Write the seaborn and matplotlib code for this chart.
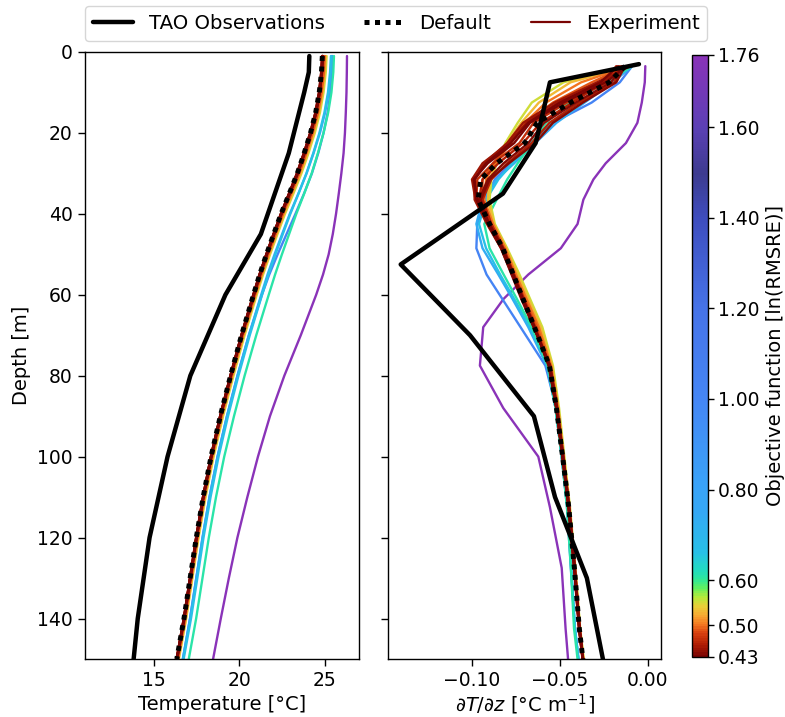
import numpy as np
import matplotlib
matplotlib.use("Agg")
import matplotlib.pyplot as plt
import seaborn as sns
from matplotlib.colors import LinearSegmentedColormap, Normalize
from matplotlib.cm import ScalarMappable
from matplotlib.lines import Line2D

# ---------------- data ----------------
# TAO mooring observations
TAO_DEPTH = [1, 5, 10, 20, 25, 45, 60, 80, 100, 120, 140, 160]
TAO_TEMP = [24.10, 24.07, 23.80, 23.20, 22.90, 21.27, 19.20, 17.15, 15.82, 14.77, 14.08, 13.60]
TAO_GRAD_DEPTH = [3, 7.5, 15, 22.5, 35, 52.5, 70, 90, 110, 130, 150, 170]
TAO_GRAD = [-0.0051, -0.0557, -0.0597, -0.0638, -0.0824, -0.1405, -0.1011, -0.0648,
            -0.0528, -0.0347, -0.0256, -0.0200]

# model grids
MODEL_DEPTH = [1, 5, 10, 15, 20, 25, 30, 35, 40, 45, 50, 55, 60, 70, 80, 90, 100,
               110, 120, 130, 140, 150]
GRAD_DEPTH = [3.5, 7.5, 12.5, 17.5, 22.5, 27.5, 31.5, 36.5, 42.5, 48.5, 55, 61, 68,
              77.5, 88, 100, 112.5, 127.5, 142.5, 157.5]

# default parameter run
DEFAULT_TEMP = [24.86, 24.81, 24.68, 24.47, 24.17, 23.80, 23.40, 22.93, 22.45, 22.02,
                21.60, 21.20, 20.84, 20.14, 19.50, 18.90, 18.36, 17.90, 17.50, 17.14,
                16.78, 16.36]
DEFAULT_GRAD = [-0.013, -0.022, -0.044, -0.063, -0.070, -0.086, -0.095, -0.0965, -0.090,
                -0.0825, -0.0765, -0.071, -0.0645, -0.056, -0.052, -0.0485, -0.045,
                -0.0418, -0.039, -0.035]

# calibration experiments: objective function value, temperature, dT/dz
EXP_COST = [1.76, 1.02, 0.74, 0.66, 0.61, 0.55, 0.53, 0.50, 0.49, 0.47, 0.46, 0.46,
            0.45, 0.45, 0.44, 0.44, 0.435, 0.43]
EXP_TEMP = [
    [26.30, 26.29, 26.27, 26.23, 26.18, 26.10, 25.97, 25.82, 25.66, 25.47, 25.23, 24.90,
     24.50, 23.60, 22.64, 21.80, 21.10, 20.48, 19.90, 19.40, 18.93, 18.48],
    [25.45, 25.42, 25.33, 25.17, 24.93, 24.62, 24.25, 23.79, 23.29, 22.77, 22.25, 21.76,
     21.33, 20.57, 19.90, 19.29, 18.74, 18.27, 17.87, 17.50, 17.13, 16.72],
    [25.41, 25.36, 25.23, 25.02, 24.72, 24.35, 23.94, 23.46, 22.96, 22.51, 22.07, 21.66,
     21.29, 20.57, 19.91, 19.29, 18.74, 18.27, 17.86, 17.50, 17.14, 16.71],
    [25.36, 25.31, 25.19, 24.98, 24.69, 24.33, 23.93, 23.47, 22.99, 22.55, 22.12, 21.71,
     21.34, 20.62, 19.96, 19.35, 18.80, 18.33, 17.92, 17.56, 17.19, 16.76],
    [25.54, 25.50, 25.39, 25.20, 24.93, 24.60, 24.24, 23.80, 23.34, 22.92, 22.50, 22.10,
     21.73, 21.00, 20.32, 19.70, 19.13, 18.65, 18.23, 17.86, 17.49, 17.06],
    [25.11, 25.06, 24.93, 24.72, 24.42, 24.05, 23.64, 23.17, 22.68, 22.24, 21.81, 21.40,
     21.03, 20.32, 19.67, 19.06, 18.51, 18.04, 17.63, 17.27, 16.91, 16.48],
    [25.06, 25.01, 24.88, 24.67, 24.37, 24.00, 23.59, 23.12, 22.64, 22.20, 21.77, 21.36,
     20.99, 20.28, 19.63, 19.03, 18.48, 18.01, 17.61, 17.25, 16.89, 16.46],
    [25.01, 24.96, 24.83, 24.62, 24.31, 23.94, 23.53, 23.06, 22.58, 22.15, 21.72, 21.32,
     20.95, 20.24, 19.59, 18.99, 18.44, 17.98, 17.58, 17.22, 16.86, 16.44],
    [24.97, 24.92, 24.79, 24.58, 24.27, 23.90, 23.49, 23.02, 22.54, 22.11, 21.68, 21.28,
     20.92, 20.21, 19.56, 18.96, 18.42, 17.96, 17.56, 17.20, 16.84, 16.42],
    [24.90, 24.85, 24.72, 24.51, 24.21, 23.84, 23.44, 22.97, 22.49, 22.06, 21.64, 21.24,
     20.88, 20.17, 19.53, 18.93, 18.39, 17.93, 17.53, 17.17, 16.81, 16.39],
    [24.87, 24.82, 24.69, 24.48, 24.18, 23.81, 23.41, 22.94, 22.46, 22.03, 21.61, 21.21,
     20.85, 20.15, 19.51, 18.91, 18.37, 17.91, 17.51, 17.15, 16.79, 16.37],
    [24.88, 24.83, 24.70, 24.49, 24.19, 23.82, 23.42, 22.95, 22.47, 22.04, 21.62, 21.22,
     20.86, 20.15, 19.51, 18.91, 18.37, 17.91, 17.51, 17.15, 16.79, 16.37],
    [24.84, 24.79, 24.66, 24.45, 24.15, 23.78, 23.38, 22.92, 22.44, 22.01, 21.59, 21.19,
     20.83, 20.13, 19.49, 18.89, 18.35, 17.89, 17.49, 17.13, 16.77, 16.35],
    [24.86, 24.81, 24.68, 24.46, 24.15, 23.78, 23.37, 22.91, 22.44, 22.01, 21.59, 21.19,
     20.83, 20.13, 19.49, 18.89, 18.35, 17.89, 17.49, 17.13, 16.77, 16.35],
    [24.85, 24.80, 24.67, 24.46, 24.16, 23.79, 23.39, 22.92, 22.44, 22.01, 21.59, 21.19,
     20.83, 20.13, 19.49, 18.89, 18.35, 17.89, 17.49, 17.13, 16.77, 16.35],
    [24.89, 24.84, 24.71, 24.50, 24.20, 23.83, 23.43, 22.96, 22.48, 22.05, 21.63, 21.23,
     20.87, 20.16, 19.52, 18.92, 18.38, 17.92, 17.52, 17.16, 16.80, 16.38],
    [24.87, 24.82, 24.69, 24.48, 24.17, 23.80, 23.39, 22.92, 22.45, 22.02, 21.60, 21.20,
     20.84, 20.14, 19.50, 18.90, 18.36, 17.90, 17.50, 17.14, 16.78, 16.36],
    [24.88, 24.83, 24.70, 24.49, 24.18, 23.81, 23.40, 22.93, 22.46, 22.03, 21.61, 21.21,
     20.85, 20.15, 19.51, 18.91, 18.37, 17.91, 17.51, 17.15, 16.79, 16.37],
]
EXP_GRAD = [
    [-0.0015, -0.0018, -0.0035, -0.006, -0.0125, -0.024, -0.031, -0.0367, -0.040, -0.0495,
     -0.068, -0.082, -0.0936, -0.0955, -0.0822, -0.0623, -0.0557, -0.049, -0.0468, -0.044],
    [-0.009, -0.016, -0.032, -0.054, -0.0665, -0.078, -0.087, -0.0925, -0.097, -0.0975,
     -0.0917, -0.0828, -0.0724, -0.0583, -0.052, -0.049, -0.046, -0.0438, -0.0415, -0.0375],
    [-0.009, -0.020, -0.036, -0.052, -0.064, -0.076, -0.086, -0.094, -0.0975, -0.094,
     -0.085, -0.077, -0.068, -0.0575, -0.0525, -0.049, -0.0458, -0.0437, -0.0415, -0.0375],
    [-0.010, -0.022, -0.040, -0.055, -0.066, -0.077, -0.085, -0.092, -0.096, -0.092,
     -0.084, -0.076, -0.067, -0.057, -0.0525, -0.049, -0.0458, -0.0435, -0.0415, -0.0375],
    [-0.009, -0.024, -0.045, -0.058, -0.066, -0.074, -0.080, -0.086, -0.093, -0.090,
     -0.082, -0.0745, -0.066, -0.057, -0.0525, -0.049, -0.046, -0.0438, -0.042, -0.038],
    [-0.012, -0.048, -0.066, -0.074, -0.081, -0.086, -0.089, -0.090, -0.087, -0.080,
     -0.073, -0.067, -0.060, -0.054, -0.0505, -0.0475, -0.0443, -0.0412, -0.0385, -0.0345],
    [-0.011, -0.044, -0.062, -0.072, -0.080, -0.086, -0.090, -0.091, -0.0875, -0.0805,
     -0.074, -0.068, -0.061, -0.0545, -0.051, -0.0478, -0.0445, -0.0413, -0.0386, -0.0346],
    [-0.011, -0.038, -0.058, -0.070, -0.078, -0.087, -0.092, -0.093, -0.088, -0.081,
     -0.075, -0.069, -0.062, -0.055, -0.051, -0.048, -0.0447, -0.0415, -0.0388, -0.0348],
    [-0.012, -0.032, -0.054, -0.069, -0.078, -0.088, -0.094, -0.094, -0.089, -0.082,
     -0.076, -0.070, -0.063, -0.0555, -0.0515, -0.048, -0.0447, -0.0415, -0.0388, -0.0348],
    [-0.016, -0.023, -0.046, -0.065, -0.073, -0.088, -0.097, -0.0975, -0.0905, -0.083,
     -0.0768, -0.0712, -0.0648, -0.0562, -0.052, -0.0485, -0.045, -0.0418, -0.039, -0.0352],
    [-0.015, -0.019, -0.039, -0.056, -0.066, -0.080, -0.089, -0.094, -0.089, -0.082,
     -0.076, -0.0705, -0.064, -0.0558, -0.0518, -0.0483, -0.0448, -0.0416, -0.0388, -0.035],
    [-0.018, -0.025, -0.043, -0.061, -0.071, -0.085, -0.094, -0.096, -0.0895, -0.0825,
     -0.0765, -0.071, -0.0645, -0.056, -0.052, -0.0485, -0.045, -0.0418, -0.039, -0.035],
    [-0.011, -0.026, -0.051, -0.069, -0.079, -0.094, -0.100, -0.098, -0.091, -0.083,
     -0.077, -0.0715, -0.0645, -0.056, -0.052, -0.0487, -0.0452, -0.042, -0.0392, -0.0352],
    [-0.010, -0.029, -0.053, -0.071, -0.080, -0.093, -0.0985, -0.0985, -0.0915, -0.0835,
     -0.0772, -0.0713, -0.0647, -0.0561, -0.0521, -0.0486, -0.0451, -0.0419, -0.0391, -0.0351],
    [-0.014, -0.021, -0.041, -0.059, -0.068, -0.082, -0.091, -0.096, -0.091, -0.0835,
     -0.0775, -0.072, -0.065, -0.0555, -0.0515, -0.048, -0.0448, -0.0415, -0.0388, -0.0348],
    [-0.013, -0.018, -0.037, -0.054, -0.064, -0.079, -0.090, -0.095, -0.0905, -0.083,
     -0.077, -0.0715, -0.0648, -0.0557, -0.0517, -0.0482, -0.0447, -0.0416, -0.0389, -0.0349],
    [-0.017, -0.027, -0.050, -0.068, -0.078, -0.092, -0.0985, -0.0975, -0.0905, -0.0828,
     -0.0768, -0.0712, -0.0646, -0.0562, -0.0521, -0.0486, -0.0451, -0.0419, -0.0391, -0.0351],
    [-0.012, -0.024, -0.048, -0.067, -0.076, -0.091, -0.099, -0.097, -0.090, -0.0825,
     -0.0765, -0.071, -0.0645, -0.0565, -0.052, -0.0485, -0.045, -0.0418, -0.039, -0.035],
]

CBAR_TICKS = [0.43, 0.50, 0.60, 0.80, 1.00, 1.20, 1.40, 1.60, 1.76]

# colour scale for the objective function
CMAP_VALUES = [0.43, 0.455, 0.48, 0.50, 0.52, 0.54, 0.56, 0.58, 0.60, 0.62, 0.66,
               0.75, 0.80, 1.00, 1.20, 1.40, 1.50, 1.60, 1.76]
CMAP_COLORS = ["#7a0403", "#b01e04", "#d8400f", "#f57a22", "#f8a832", "#e8d038",
               "#b5eb3a", "#60f060", "#2ee89a", "#22dcc0", "#28c0e8", "#35a8f5",
               "#39a4f8", "#4586f5", "#4673e8", "#3e4dbe", "#3d3b8f", "#5b40b5",
               "#8a33b8"]

# ---------------- figure ----------------
sns.set_theme(style="ticks")
plt.rcParams["font.family"] = ["DejaVu Sans"]
FS = 13.5
plt.rcParams.update({"font.size": FS, "axes.labelsize": 14, "xtick.labelsize": FS,
                     "ytick.labelsize": FS, "axes.edgecolor": "black",
                     "text.color": "black", "axes.labelcolor": "black",
                     "xtick.color": "black", "ytick.color": "black",
                     "axes.linewidth": 1.0})

vmin, vmax = CMAP_VALUES[0], CMAP_VALUES[-1]
stops = [(v - vmin) / (vmax - vmin) for v in CMAP_VALUES]
cmap = LinearSegmentedColormap.from_list("objective", list(zip(stops, CMAP_COLORS)))
norm = Normalize(vmin=vmin, vmax=vmax)

fig = plt.figure(figsize=(7.85, 7.17), dpi=100)
ax1 = fig.add_axes([0.1083, 0.0809, 0.3490, 0.8466])
ax2 = fig.add_axes([0.4943, 0.0809, 0.3477, 0.8466], sharey=ax1)
cax = fig.add_axes([0.8815, 0.0837, 0.0204, 0.8396])

# experiments: worst first so the best runs end up on top
for cost, temp, grad in zip(EXP_COST, EXP_TEMP, EXP_GRAD):
    c = cmap(norm(cost))
    sns.lineplot(x=temp, y=MODEL_DEPTH, sort=False, estimator=None, color=c,
                 lw=1.7, ax=ax1, legend=False)
    sns.lineplot(x=grad, y=GRAD_DEPTH, sort=False, estimator=None, color=c,
                 lw=1.7, ax=ax2, legend=False)

# observations and default run
for ax, xo, yo, xd, yd in [(ax1, TAO_TEMP, TAO_DEPTH, DEFAULT_TEMP, MODEL_DEPTH),
                           (ax2, TAO_GRAD, TAO_GRAD_DEPTH, DEFAULT_GRAD, GRAD_DEPTH)]:
    sns.lineplot(x=xo, y=yo, sort=False, estimator=None, color="black", lw=3.2,
                 ax=ax, legend=False)
    sns.lineplot(x=xd, y=yd, sort=False, estimator=None, color="black", lw=3.6,
                 ax=ax, legend=False)
    ax.lines[-1].set_linestyle((0, (1, 1.1)))

ax1.set_ylim(150, 0)
ax1.set_yticks(np.arange(0, 141, 20))
ax1.set_xlim(11, 27)
ax1.set_xticks([15, 20, 25])
ax1.set_xlabel("Temperature [°C]", labelpad=3)
ax1.set_ylabel("Depth [m]")

ax2.set_xlim(-0.1477, 0.0074)
ax2.set_xticks([-0.10, -0.05, 0.00])
ax2.set_xticklabels(["\u22120.10", "\u22120.05", "0.00"])
ax2.tick_params(labelleft=False)
ax2.set_xlabel(r"$\partial T/\partial z$ [°C m$^{-1}$]", labelpad=1)
ax2.set_ylabel("")

for ax in (ax1, ax2):
    ax.tick_params(direction="out", length=5, width=1, pad=4)

sm = ScalarMappable(norm=norm, cmap=cmap)
cb = fig.colorbar(sm, cax=cax, ticks=CBAR_TICKS)
cb.ax.set_yticklabels([f"{t:.2f}" for t in CBAR_TICKS])
cb.ax.tick_params(length=4, width=1, pad=3)
cb.set_label("Objective function [ln(RMSRE)]", fontsize=14, labelpad=5)
cb.outline.set_linewidth(1.0)

handles = [Line2D([], [], color="black", lw=3.2),
           Line2D([], [], color="black", lw=3.6, linestyle=(0, (1, 1.1))),
           Line2D([], [], color=cmap(0.0), lw=1.6)]
labels = ["TAO Observations", "Default", "Experiment"]
fig.legend(handles, labels, loc="upper center", bbox_to_anchor=(0.505, 0.997),
           borderaxespad=0.2, ncol=3, fontsize=14.2, frameon=True,
           columnspacing=2.0, handlelength=2.0)

fig.savefig("out.png", dpi=100)
